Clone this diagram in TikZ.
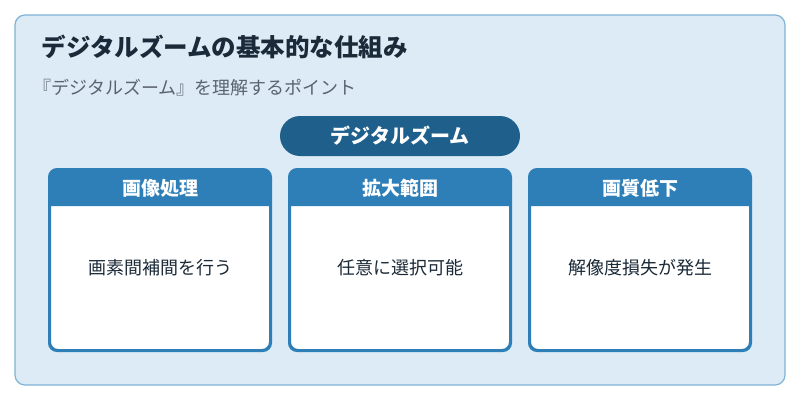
\documentclass[tikz,border=0pt]{standalone}
\usepackage{fontspec}
\setmainfont{Noto Sans CJK JP}
\usepackage{tikz}
\usetikzlibrary{positioning}
\definecolor{bgblue}{HTML}{DCEBF6}
\definecolor{frameblue}{HTML}{7FB3D5}
\definecolor{pillblue}{HTML}{1F5F8B}
\definecolor{hdrblue}{HTML}{2E7FB8}
\definecolor{titlecol}{HTML}{1B2A38}
\definecolor{subcol}{HTML}{5A6470}
\begin{document}
\begin{tikzpicture}[x=1pt,y=-1pt,
    card/.style={draw=hdrblue, line width=2pt, fill=white, rounded corners=8pt,
      minimum width=220pt, minimum height=180pt, inner sep=0pt},
    hdrtxt/.style={text=white, font=\fontsize{19}{22}\selectfont\bfseries},
    bodytxt/.style={text=titlecol, font=\fontsize{18}{21}\selectfont}]
  \useasboundingbox (0,0) rectangle (800,400);
  \fill[white] (0,0) rectangle (800,400);
  \draw[frameblue, fill=bgblue, line width=1.2pt, rounded corners=10pt] (15,15) rectangle (785,385);
  \node[anchor=west, text=titlecol, font=\fontsize{24.5}{30}\selectfont\bfseries] (title) at (38,47) {デジタルズームの基本的な仕組み};
  \node[anchor=west, text=subcol, font=\fontsize{18}{21}\selectfont] (sub) at (30,88) {『デジタルズーム』を理解するポイント};
  \node[fill=pillblue, rounded corners=20pt, minimum width=240pt, minimum height=40pt,
    text=white, font=\fontsize{20}{22}\selectfont\bfseries] (pill) at (400,136) {デジタルズーム};
  \foreach \x/\name/\head/\body in {160/proc/画像処理/画素間補間を行う,
      400/range/拡大範囲/任意に選択可能, 640/loss/画質低下/解像度損失が発生}{
    \node[card] (\name) at (\x,260) {};
    \fill[hdrblue] (\x-110,206) [rounded corners=8pt]-- (\x-110,170) -- (\x+110,170) [sharp corners]-- (\x+110,206) -- cycle;
    \draw[hdrblue, line width=2pt, rounded corners=8pt] (\name.south west) rectangle (\name.north east);
    \node[hdrtxt] (\name-h) at (\x,188) {\head};
    \node[bodytxt] (\name-b) at (\x,268) {\body};
  }
\end{tikzpicture}
\end{document}
